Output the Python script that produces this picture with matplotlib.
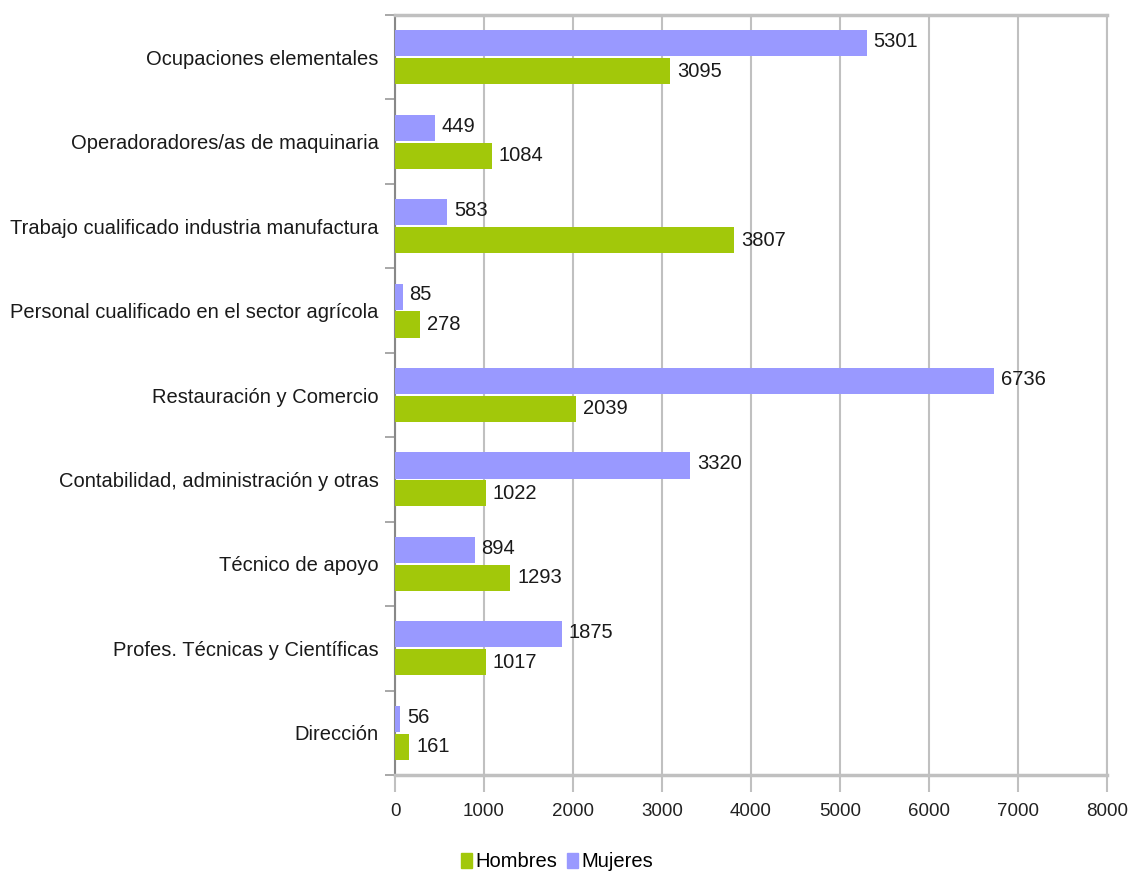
import matplotlib
matplotlib.use('Agg')
import matplotlib.pyplot as plt
import matplotlib.patches as mpatches
import numpy as np

# Data (bottom to top)
categories = ['Dirección', 'Profes. Técnicas y Científicas', 'Técnico de apoyo',
              'Contabilidad, administración y otras', 'Restauración y Comercio',
              'Personal cualificado en el sector agrícola',
              'Trabajo cualificado industria manufactura',
              'Operadoradores/as de maquinaria', 'Ocupaciones elementales']
hombres = [161, 1017, 1293, 1022, 2039, 278, 3807, 1084, 3095]
mujeres = [56, 1875, 894, 3320, 6736, 85, 583, 449, 5301]
xticks = [0, 1000, 2000, 3000, 4000, 5000, 6000, 7000, 8000]

green = '#a2c80a'
purple = '#9999ff'
grid_col = '#c0c0c0'

plt.rcParams['font.family'] = ['Liberation Sans', 'DejaVu Sans']

fig = plt.figure(figsize=(11.3, 8.84), dpi=100)
ax = fig.add_axes([0.3496, 0.1233, 0.6300, 0.8597])

y = np.arange(len(categories))
h = 0.31
ax.barh(y - h / 2 - 0.01, hombres, height=h, color=green, zorder=3)
ax.barh(y + h / 2 + 0.01, mujeres, height=h, color=purple, zorder=3)

for i in range(len(categories)):
    ax.annotate(str(hombres[i]), (hombres[i], y[i] - h / 2 - 0.01),
                xytext=(5, 0), textcoords='offset points',
                va='center', ha='left', fontsize=14.5, color='#1a1a1a', zorder=4)
    ax.annotate(str(mujeres[i]), (mujeres[i], y[i] + h / 2 + 0.03),
                xytext=(5, 0), textcoords='offset points',
                va='center', ha='left', fontsize=14.5, color='#1a1a1a', zorder=4)

ax.set_xlim(0, 8000)
ax.set_ylim(-0.5, len(categories) - 0.5)
ax.set_xticks(xticks)
ax.set_xticklabels([str(v) for v in xticks], fontsize=13.5, color='#222222')
ax.set_yticks(y)
ax.set_yticklabels(categories, fontsize=14.5, color='#1a1a1a')
ax.tick_params(axis='y', length=0, pad=12)
ax.tick_params(axis='x', length=12, width=1.5, color=grid_col, pad=8)

# category boundary ticks on the left axis
ax.set_yticks(np.arange(-0.5, len(categories)), minor=True)
ax.tick_params(axis='y', which='minor', length=7, width=1.2, color='#999999')

ax.grid(axis='x', color=grid_col, linewidth=1.5, zorder=0)
ax.set_axisbelow(True)
for side in ['top', 'bottom']:
    ax.spines[side].set_color(grid_col)
    ax.spines[side].set_linewidth(2.5)
ax.spines['right'].set_color(grid_col)
ax.spines['right'].set_linewidth(1.5)
ax.spines['left'].set_color('#888888')
ax.spines['left'].set_linewidth(1.5)

handles = [mpatches.Patch(color=green, label='Hombres'),
           mpatches.Patch(color=purple, label='Mujeres')]
fig.legend(handles=handles, loc='center', bbox_to_anchor=(0.493, 0.025), ncol=2,
           frameon=False, fontsize=14.5, handlelength=0.55, handleheight=0.8,
           handletextpad=0.15, columnspacing=0.5)

fig.savefig('out.png', dpi=100, facecolor='white')
